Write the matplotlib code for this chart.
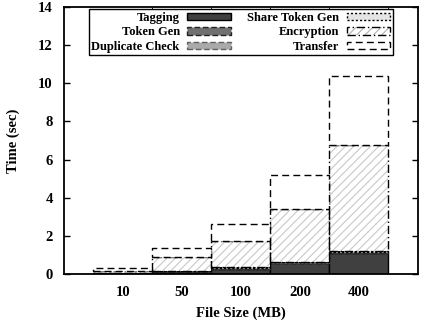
import matplotlib
matplotlib.use("Agg")
import matplotlib.pyplot as plt
from matplotlib.patches import Patch
from matplotlib.legend_handler import HandlerTuple
import numpy as np

categories = ["10", "50", "100", "200", "400"]
tagging = [0.03, 0.12, 0.28, 0.55, 1.10]
token_gen = [0.005, 0.01, 0.02, 0.03, 0.04]
dup_check = [0.005, 0.01, 0.01, 0.02, 0.03]
share_token = [0.01, 0.02, 0.03, 0.04, 0.05]
encryption = [0.10, 0.72, 1.41, 2.75, 5.54]
transfer = [0.15, 0.47, 0.87, 1.80, 3.64]

plt.rcParams['font.family'] = ['Liberation Serif', 'DejaVu Serif']
plt.rcParams['font.weight'] = 'bold'
plt.rcParams['hatch.linewidth'] = 0.8

fig = plt.figure(figsize=(4.26, 3.2), dpi=100)
ax = fig.add_axes([0.150, 0.144, 0.831, 0.834])

x = np.arange(len(categories))
w = 1.0
bottom = np.zeros(len(categories))

styles = [
    ("Tagging", tagging, dict(facecolor='#404040', edgecolor='black', linestyle='-')),
    ("Token Gen", token_gen, dict(facecolor='#707070', edgecolor='#202020', linestyle=(0, (4, 2)))),
    ("Duplicate Check", dup_check, dict(facecolor='#aaaaaa', edgecolor='#606060', linestyle=(0, (4, 2)))),
    ("Share Token Gen", share_token, dict(facecolor='#e4e4e4', edgecolor='black', linestyle=(0, (1.5, 1.5)))),
    ("Encryption", encryption, None),
    ("Transfer", transfer, dict(facecolor='white', edgecolor='black', linestyle=(0, (5, 3)))),
]

handles = []
labels = []
for name, vals, st in styles:
    vals = np.array(vals)
    if st is None:
        ax.bar(x, vals, w, bottom=bottom, facecolor='white', edgecolor='#c8c8c8',
               hatch='////', linewidth=0)
        ax.bar(x, vals, w, bottom=bottom, facecolor='none', edgecolor='black',
               linewidth=1.0, linestyle=(0, (6, 2, 1, 2)))
        h = (Patch(facecolor='white', edgecolor='#b0b0b0', hatch='////', linewidth=0),
             Patch(facecolor='none', edgecolor='black', linewidth=1.0, linestyle=(0, (6, 2, 1, 2))))
    else:
        ax.bar(x, vals, w, bottom=bottom, linewidth=1.0, **st)
        h = Patch(linewidth=1.0, **st)
    handles.append(h)
    labels.append(name)
    bottom = bottom + vals

ax.set_xlim(-1, 5)
ax.set_ylim(0, 14)
ax.set_yticks(np.arange(0, 15, 2))
ax.set_xticks(x)
ax.set_xticklabels(categories)
ax.tick_params(axis='both', direction='in', length=4, width=1, labelsize=10.5,
               top=True, right=True, pad=8)
ax.tick_params(axis='x', length=0, top=False, pad=9)
ax.set_xticks(x + 0.5, minor=True)
ax.tick_params(axis='x', which='minor', direction='in', length=4, top=True, bottom=False)
for s in ax.spines.values():
    s.set_linewidth(1.3)

ax.set_xlabel("File Size (MB)", fontsize=10.5, fontweight='bold', labelpad=5)
ax.set_ylabel("Time (sec)", fontsize=10.5, fontweight='bold', labelpad=13)

leg = ax.legend(handles, labels, ncol=2, loc='upper center', bbox_to_anchor=(0.5, 0.991),
                borderaxespad=0,
                markerfirst=False, fontsize=9, frameon=True, fancybox=False,
                edgecolor='black', framealpha=1, handlelength=3.5, handleheight=0.5,
                columnspacing=1.3, labelspacing=0.2, borderpad=0.2, handletextpad=0.6,
                handler_map={tuple: HandlerTuple(ndivide=1, pad=0)})
leg.get_frame().set_linewidth(1.0)
for t in leg.get_texts():
    t.set_ha('right')
    t.set_fontweight('bold')

fig.savefig("out.png", dpi=100)
